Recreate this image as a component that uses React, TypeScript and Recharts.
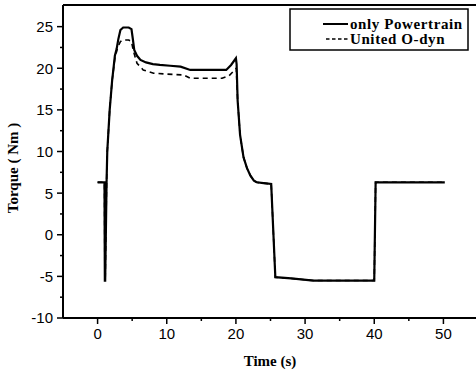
import { LineChart, Line, XAxis, YAxis, ReferenceLine } from "recharts";

// only Powertrain (solid)
const timeA = [
  0, 1.0, 1.05, 1.1, 1.3, 1.4, 1.75, 2.1, 2.5, 2.75, 3.0, 3.3, 3.7, 4.5, 4.9, 5.1, 5.3, 5.7, 6.2, 7, 8, 9,
  10.5, 12, 13.4, 15, 18.6, 19.3, 20.0, 20.1, 20.25, 20.6, 21.1, 21.6, 22.1, 22.6, 23.0, 24.0, 25.1, 25.7,
  28, 31.2, 40.0, 40.2, 50.2,
];
const torqueA = [
  6.3, 6.3, -5.5, -5.5, 6.3, 10, 15, 18.5, 21.5, 22.3, 23.5, 24.6, 24.9, 24.9, 24.7, 23.5, 22.2, 21.5, 21.0, 20.7,
  20.5, 20.4, 20.3, 20.2, 19.8, 19.8, 19.8, 20.4, 21.2, 20.5, 16.1, 12.0, 9.3, 8.0, 7.1, 6.5, 6.3, 6.2, 6.1, -5.1,
  -5.25, -5.5, -5.5, 6.3, 6.3,
];

// United O-dyn (dashed)
const timeB = [
  0, 1.0, 1.05, 1.1, 1.3, 1.4, 1.75, 2.1, 2.5, 2.9, 3.3, 3.7, 4.5, 4.9, 5.2, 5.7, 6.6, 8.1, 10, 12.4, 13.4,
  18, 19.0, 19.6, 20.05, 20.25, 20.6, 21.1, 21.6, 22.1, 22.6, 23.0, 24.0, 25.1, 25.7, 28, 31.2, 40.0, 40.2, 50.2,
];
const torqueB = [
  6.3, 6.3, -5.5, -5.5, 6.3, 10, 15, 18.5, 21.2, 22.5, 23.2, 23.4, 23.4, 23.2, 22.0, 20.6, 19.8, 19.4, 19.3, 19.2,
  18.8, 18.8, 19.1, 19.6, 20.0, 16.1, 12.0, 9.3, 8.0, 7.1, 6.5, 6.3, 6.2, 6.1, -5.1, -5.25, -5.5, -5.5, 6.3, 6.3,
];

const xTicks = [0, 5, 10, 15, 20, 25, 30, 35, 40, 45, 50];
const yTicks = [-10, -7.5, -5, -2.5, 0, 2.5, 5, 7.5, 10, 12.5, 15, 17.5, 20, 22.5, 25];

const seriesA = timeA.map((t, i) => ({ t, v: torqueA[i] }));
const seriesB = timeB.map((t, i) => ({ t, v: torqueB[i] }));

const AXIS_X = 63;
const AXIS_Y = 318;
const serif = "'Liberation Serif', 'Times New Roman', serif";
const sans = "'Liberation Sans', Arial, sans-serif";

const YTick = (props: any) => {
  const { y, payload } = props;
  const major = payload.value % 5 === 0;
  return (
    <g>
      <line x1={AXIS_X} x2={AXIS_X - (major ? 6 : 3)} y1={y} y2={y} stroke="#000" strokeWidth={1.5} />
      {major && (
        <text x={AXIS_X - 10} y={y} dy="0.36em" textAnchor="end" fontFamily={sans} fontSize={15} fill="#000">
          {payload.value}
        </text>
      )}
    </g>
  );
};

const XTick = (props: any) => {
  const { x, payload } = props;
  const major = payload.value % 10 === 0;
  return (
    <g>
      <line x1={x} x2={x} y1={AXIS_Y} y2={AXIS_Y + (major ? 6 : 3)} stroke="#000" strokeWidth={1.5} />
      {major && (
        <text x={x} y={AXIS_Y + 21} textAnchor="middle" fontFamily={sans} fontSize={15} fill="#000">
          {payload.value}
        </text>
      )}
    </g>
  );
};

export default function App() {
  return (
    <div style={{ position: "absolute", left: 0, top: 0, width: 476, height: 372, overflow: "hidden", background: "#fff" }}>
      <LineChart width={480} height={372} margin={{ top: 5, right: 2, bottom: 0, left: 0 }}>
        <XAxis
          type="number"
          dataKey="t"
          domain={[-5, 55]}
          ticks={xTicks}
          interval={0}
          height={54}
          axisLine={{ stroke: "#000", strokeWidth: 2 }}
          tickLine={false}
          tick={<XTick />}
          label={{
            content: () => (
              <text x={270} y={366} textAnchor="middle" fontFamily={serif} fontWeight="bold" fontSize={15} fill="#000">
                Time (s)
              </text>
            ),
          }}
        />
        <YAxis
          type="number"
          dataKey="v"
          domain={[-10, 27.6]}
          ticks={yTicks}
          interval={0}
          width={63}
          axisLine={{ stroke: "#000", strokeWidth: 2 }}
          tickLine={false}
          tick={<YTick />}
          label={{
            content: () => (
              <text
                x={18}
                y={168}
                transform="rotate(-90 18 168)"
                textAnchor="middle"
                fontFamily={serif}
                fontWeight="bold"
                fontSize={15}
                fill="#000"
              >
                Torque ( Nm )
              </text>
            ),
          }}
        />
        <ReferenceLine y={27.6} stroke="#000" strokeWidth={2} />
        <Line
          data={seriesB}
          dataKey="v"
          type="linear"
          stroke="#000"
          strokeWidth={1.6}
          strokeDasharray="5 4"
          dot={false}
          isAnimationActive={false}
        />
        <Line
          data={seriesA}
          dataKey="v"
          type="linear"
          stroke="#000"
          strokeWidth={2.2}
          dot={false}
          isAnimationActive={false}
        />
      </LineChart>
      <svg width={182} height={45} style={{ position: "absolute", left: 288, top: 7 }}>
        <rect x={2} y={2} width={178} height={41} fill="#fff" stroke="#000" strokeWidth={1.5} />
        <line x1={35} x2={60} y1={17} y2={17} stroke="#000" strokeWidth={2} />
        <text x={62} y={22} fontFamily={serif} fontWeight="bold" fontSize={15} letterSpacing={0.6} fill="#000">
          only Powertrain
        </text>
        <line x1={38} x2={60} y1={32} y2={32} stroke="#000" strokeWidth={1.5} strokeDasharray="3.5 2.5" />
        <text x={62} y={37} fontFamily={serif} fontWeight="bold" fontSize={15} letterSpacing={0.6} fill="#000">
          United O-dyn
        </text>
      </svg>
    </div>
  );
}
